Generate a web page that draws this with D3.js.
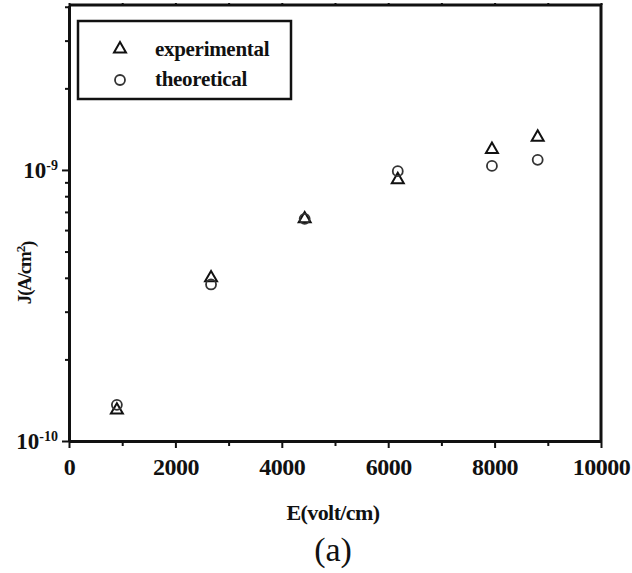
<!DOCTYPE html>
<html lang="en">
<head>
<meta charset="UTF-8">
<title>J vs E</title>
<style>
    body { margin: 0; background: #fff; }
    text { font-family: "Liberation Serif", "Times New Roman", serif; fill: #111; }
    .axis path, .axis line { stroke: #111; }
    .axis path { stroke-width: 3; }
    .axis line { stroke-width: 2; }
    .exp { fill: none; stroke: #111; stroke-width: 2; }
    .theo { fill: none; stroke: #333; stroke-width: 1.8; }
</style>
</head>
<body>
<script src="https://d3js.org/d3.v7.min.js"></script>
<script>
    // data
    var fieldE = [900, 2670, 4430, 6180, 7950, 8810];
    var jExperimental = [1.30e-10, 4.0e-10, 6.6e-10, 9.2e-10, 1.19e-9, 1.32e-9];
    var jTheoretical = [1.36e-10, 3.78e-10, 6.6e-10, 9.9e-10, 1.035e-9, 1.09e-9];
    var xTicks = [0, 2000, 4000, 6000, 8000, 10000];
    var xMinor = [1000, 3000, 5000, 7000, 9000];
    var yTicks = [1e-10, 1e-9];
    var yMinor = [2e-10, 3e-10, 4e-10, 5e-10, 6e-10, 7e-10, 8e-10, 9e-10, 2e-9, 3e-9, 4e-9];
    var legendLabels = ["experimental", "theoretical"];

    var width = 632, height = 573;
    var margin = {top: 5, right: 31, bottom: 132, left: 69};
    var w = width - margin.left - margin.right,
        h = height - margin.top - margin.bottom;

    var svg = d3.select("body").append("svg")
        .attr("width", width)
        .attr("height", height);

    var g = svg.append("g")
        .attr("transform", "translate(" + margin.left + "," + margin.top + ")");

    var x = d3.scaleLinear().domain([0, 10000]).range([0, w]);
    var y = d3.scaleLog().domain([1e-10, 4.06e-9]).range([h, 0]);

    // frame: top and right sides
    g.append("path")
        .attr("d", "M0,0H" + w + "V" + h)
        .attr("fill", "none")
        .attr("stroke", "#111")
        .attr("stroke-width", 3);

    // x axis
    var xAxis = g.append("g")
        .attr("class", "axis")
        .attr("transform", "translate(0," + h + ")")
        .call(d3.axisBottom(x).tickValues(xTicks).tickSize(7).tickSizeOuter(0).tickPadding(10).tickFormat(d3.format("d")));
    xAxis.selectAll("text")
        .style("font-size", "24px").style("font-weight", "bold")
        .style("letter-spacing", "-0.5px");

    g.append("g")
        .attr("class", "axis")
        .attr("transform", "translate(0," + h + ")")
        .call(d3.axisBottom(x).tickValues(xMinor).tickSize(5).tickFormat(""))
        .select(".domain").remove();

    // small ticks on the top edge
    g.append("g")
        .attr("class", "axis")
        .call(d3.axisTop(x).tickValues(xMinor.concat(xTicks)).tickSize(2).tickFormat(""))
        .select(".domain").remove();

    // y axis
    var yAxis = g.append("g")
        .attr("class", "axis")
        .call(d3.axisLeft(y).tickValues(yTicks).tickSize(7).tickSizeOuter(0).tickPadding(4).tickFormat(""));
    yAxis.selectAll(".tick text")
        .style("font-size", "23px").style("font-weight", "bold")
        .each(function(d) {
            var t = d3.select(this);
            t.append("tspan").text("10");
            t.append("tspan")
                .attr("dy", "-0.55em")
                .style("font-size", "14px")
                .text(Math.round(Math.log10(d)));
        });

    g.append("g")
        .attr("class", "axis")
        .call(d3.axisLeft(y).tickValues(yMinor).tickSize(4).tickFormat(""))
        .select(".domain").remove();

    // axis titles
    svg.append("text")
        .attr("x", margin.left + x(5000) - 2)
        .attr("y", 520)
        .attr("text-anchor", "middle")
        .style("font-size", "22px").style("font-weight", "bold")
        .style("letter-spacing", "-0.6px")
        .text("E(volt/cm)");

    svg.append("text")
        .attr("x", margin.left + x(5000) - 2)
        .attr("y", 561)
        .attr("text-anchor", "middle")
        .style("font-size", "34px")
        .text("(a)");

    var yl = svg.append("text")
        .attr("transform", "translate(31,273) rotate(-90)")
        .attr("text-anchor", "middle")
        .style("font-size", "19px").style("font-weight", "bold")
        .style("letter-spacing", "-1.2px");
    yl.append("tspan").text("J(A/cm");
    yl.append("tspan").attr("dy", "-0.5em").style("font-size", "13px").text("2");
    yl.append("tspan").attr("dy", "0.5em").text(")");

    // markers
    var tri = d3.symbol().type(d3.symbolTriangle).size(62);

    g.selectAll(".exp")
        .data(fieldE)
        .enter().append("path")
        .attr("class", "exp")
        .attr("d", tri)
        .attr("transform", function(d, i) { return "translate(" + x(d) + "," + y(jExperimental[i]) + ")"; });

    g.selectAll(".theo")
        .data(fieldE)
        .enter().append("circle")
        .attr("class", "theo")
        .attr("cx", function(d) { return x(d); })
        .attr("cy", function(d, i) { return y(jTheoretical[i]); })
        .attr("r", 5);

    // legend
    var legend = g.append("g").attr("transform", "translate(9,16)");
    legend.append("rect")
        .attr("width", 213).attr("height", 78)
        .attr("fill", "none").attr("stroke", "#111").attr("stroke-width", 2.5);

    legend.append("path")
        .attr("class", "exp")
        .attr("d", tri)
        .attr("transform", "translate(42,28)");
    legend.append("circle")
        .attr("class", "theo")
        .attr("cx", 42).attr("cy", 59).attr("r", 5);

    legend.selectAll(".lab")
        .data(legendLabels)
        .enter().append("text")
        .attr("class", "lab")
        .attr("x", 77)
        .attr("y", function(d, i) { return 35 + i * 30; })
        .style("font-size", "21px").style("font-weight", "bold")
        .style("letter-spacing", "-0.3px")
        .text(function(d) { return d; });
</script>
</body>
</html>
